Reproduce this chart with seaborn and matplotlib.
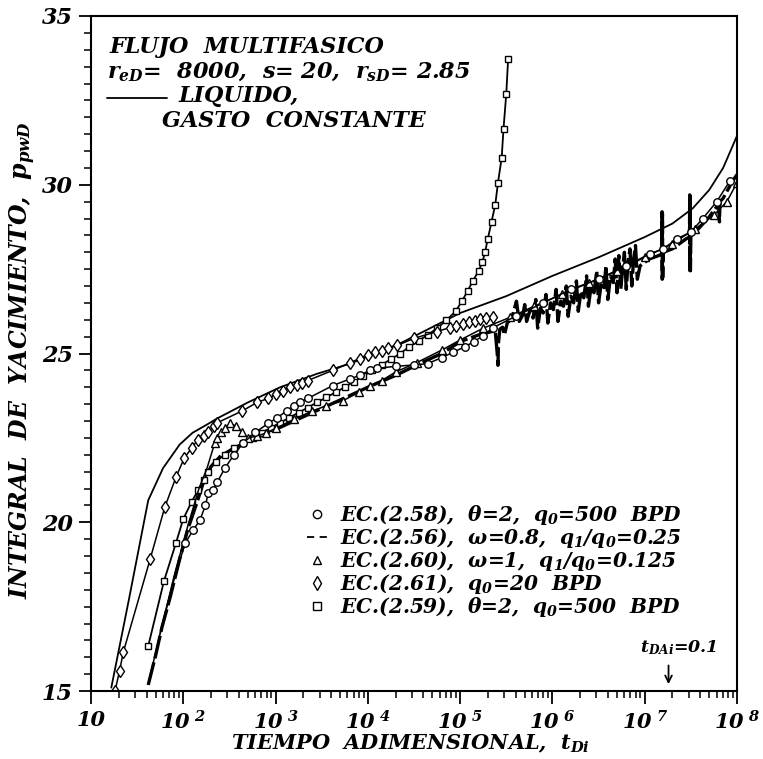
import numpy as np
import pandas as pd
import matplotlib
matplotlib.use("Agg")
import matplotlib.pyplot as plt
from matplotlib.lines import Line2D
from matplotlib.ticker import LogLocator, MultipleLocator, NullFormatter
import seaborn as sns

# Dimensionless time is stored as log10(t_Di); pressure integral p_pwD.

# Liquid, constant rate (solid reference curve)
liq_logt = [1.22, 1.41, 1.62, 1.78, 1.96, 2.10, 2.26, 2.37, 2.70, 3.05, 3.45, 3.81,
            4.35, 5.00, 5.50, 6.00, 6.50, 7.00, 7.30, 7.52, 7.70, 7.85, 8.00]
liq_p = [15.1, 17.7, 20.65, 21.6, 22.3, 22.65, 22.9, 23.08, 23.55, 24.0, 24.4, 24.7,
         25.3, 26.2, 26.7, 27.3, 27.85, 28.45, 28.85, 29.3, 29.85, 30.5, 31.45]

# EC.(2.61), q0 = 20 BPD (diamonds)
dia_logt = [1.26, 1.31, 1.35, 1.64, 1.80, 1.92, 2.01, 2.09, 2.16, 2.22, 2.27, 2.33,
            2.37, 2.64, 2.80, 2.92, 3.01, 3.08, 3.16, 3.23, 3.29, 3.35, 3.62, 3.81,
            3.91, 4.00, 4.08, 4.15, 4.22, 4.32, 4.50, 4.75, 4.89, 4.96, 5.03, 5.10,
            5.16, 5.22, 5.28, 5.36]
dia_p = [15.0, 15.6, 16.15, 18.9, 20.45, 21.33, 21.9, 22.2, 22.45, 22.57, 22.66, 22.85,
         22.95, 23.3, 23.55, 23.67, 23.8, 23.9, 24.0, 24.08, 24.14, 24.2, 24.5, 24.73,
         24.85, 24.97, 25.03, 25.08, 25.15, 25.24, 25.45, 25.65, 25.77, 25.82, 25.87, 25.93,
         25.97, 26.01, 26.04, 26.07]

# EC.(2.58), theta = 2, q0 = 500 BPD (circles)
cir_logt = [1.62, 1.77, 1.90, 2.02, 2.105, 2.18, 2.24, 2.27, 2.32, 2.37, 2.45, 2.55,
            2.65, 2.78, 2.92, 3.02, 3.12, 3.20, 3.27, 3.35, 3.62, 3.81, 3.91, 4.02,
            4.10, 4.30, 4.50, 4.65, 4.80, 4.92, 5.05, 5.15, 5.25, 5.36, 5.60, 5.90,
            6.20, 6.50, 6.80, 7.06, 7.20, 7.35, 7.50, 7.63, 7.78, 7.92]
cir_p = [15.2, 16.95, 18.3, 19.38, 19.76, 20.06, 20.5, 20.86, 20.95, 21.2, 21.6, 22.0,
         22.35, 22.66, 22.93, 23.1, 23.3, 23.45, 23.57, 23.67, 24.05, 24.25, 24.35, 24.5,
         24.56, 24.62, 24.66, 24.7, 24.88, 25.03, 25.2, 25.35, 25.53, 25.77, 26.1, 26.5,
         26.9, 27.2, 27.6, 27.96, 28.1, 28.4, 28.6, 29.0, 29.5, 30.1]

# EC.(2.60), omega = 1, q1/q0 = 0.125 (triangles)
tri_logt = [1.75, 1.90, 2.05, 2.17, 2.257, 2.34, 2.37, 2.41, 2.45, 2.51, 2.57, 2.64,
            2.70, 2.80, 2.90, 3.00, 3.20, 3.40, 3.55, 3.73, 3.90, 4.02, 4.15, 4.30,
            4.53, 4.80, 5.00, 5.25, 5.54, 5.80, 6.10, 6.40, 6.70, 7.00, 7.30, 7.55,
            7.75, 7.89, 8.00]
tri_p = [16.7, 18.4, 19.9, 21.0, 21.6, 22.34, 22.5, 22.66, 22.78, 22.93, 22.85, 22.66,
         22.5, 22.55, 22.65, 22.78, 23.05, 23.3, 23.45, 23.6, 23.85, 24.05, 24.2, 24.45,
         24.73, 25.1, 25.4, 25.75, 26.07, 26.4, 26.75, 27.1, 27.45, 27.85, 28.25, 28.7,
         29.1, 29.5, 30.06]

# EC.(2.59), theta = 2, q0 = 500 BPD (squares)
sq_logt = [1.62, 1.79, 1.92, 2.00, 2.09, 2.16, 2.22, 2.27, 2.35, 2.45, 2.55, 2.65,
           2.75, 2.85, 2.95, 3.05, 3.15, 3.25, 3.35, 3.45, 3.55, 3.65, 3.75, 3.85,
           3.95, 4.05, 4.15, 4.25, 4.35, 4.45, 4.55, 4.65, 4.75, 4.85, 4.95, 5.02,
           5.08, 5.14, 5.20, 5.24, 5.27, 5.30, 5.34, 5.38, 5.41, 5.45, 5.47, 5.50, 5.52]
sq_p = [16.33, 18.25, 19.38, 20.1, 20.6, 20.95, 21.24, 21.5, 21.8, 22.0, 22.2, 22.35,
        22.5, 22.65, 22.8, 22.95, 23.1, 23.25, 23.4, 23.55, 23.7, 23.85, 24.0, 24.17,
        24.33, 24.5, 24.67, 24.83, 25.0, 25.2, 25.38, 25.55, 25.75, 25.98, 26.25, 26.55,
        26.85, 27.16, 27.45, 27.7, 28.0, 28.4, 28.9, 29.4, 30.06, 30.8, 31.66, 32.7, 33.73]

# EC.(2.56), omega = 0.8, q1/q0 = 0.25 (dashed, oscillating at late time)
das_logt = [1.62, 1.70, 1.77, 1.86, 1.96, 2.05, 2.15, 2.22, 2.30, 2.40, 2.55, 2.75,
            3.04, 3.40, 3.73, 4.00, 4.30, 4.60, 4.80,
            5.00, 5.10, 5.20, 5.30, 5.38, 5.405, 5.41, 5.415, 5.43, 5.46, 5.48, 5.51,
            5.56, 5.61, 5.64, 5.68, 5.70, 5.72, 5.76, 5.79, 5.82, 5.84, 5.87, 5.90,
            5.93, 5.95, 5.98, 6.01, 6.04, 6.06, 6.09, 6.12, 6.15, 6.17, 6.20, 6.23,
            6.26, 6.28, 6.31, 6.34, 6.37, 6.39, 6.42, 6.45, 6.48, 6.50, 6.53, 6.56,
            6.58, 6.60, 6.63, 6.66, 6.68, 6.70, 6.72, 6.74, 6.76, 6.78, 6.80, 6.82,
            6.84, 6.86, 6.88, 6.90, 6.92, 6.95, 7.00, 7.05, 7.10, 7.15, 7.185, 7.188,
            7.19, 7.192, 7.195, 7.20, 7.25, 7.30, 7.35, 7.40, 7.45, 7.485, 7.488, 7.49,
            7.492, 7.495, 7.50, 7.55, 7.60, 7.65, 7.70, 7.75, 7.80, 7.81, 7.815, 7.85,
            7.90, 7.95, 8.00]
das_p = [15.18, 16.05, 16.9, 17.8, 18.9, 19.8, 20.6, 21.2, 21.65, 21.95, 22.2, 22.45,
         22.8, 23.25, 23.66, 24.0, 24.35, 24.75, 25.0,
         25.35, 25.45, 25.55, 25.62, 25.68, 24.9, 24.65, 25.3, 25.72, 25.78, 25.55, 25.9,
         26.05, 26.55, 25.95, 26.15, 26.45, 25.95, 26.3, 26.05, 26.6, 25.75, 26.35, 26.2,
         26.75, 25.9, 26.5, 26.3, 26.9, 25.95, 26.55, 26.4, 27.0, 26.1, 26.7, 26.5,
         27.15, 26.25, 26.85, 26.65, 27.3, 26.4, 27.0, 26.8, 27.45, 26.5, 27.1, 26.95,
         27.6, 26.6, 27.3, 27.1, 27.8, 26.8, 27.9, 26.9, 27.5, 28.0, 26.9, 27.7,
         28.1, 27.0, 27.8, 28.2, 27.2, 27.6, 27.7, 27.8, 27.85, 27.9, 27.95, 29.2,
         27.2, 29.15, 27.25, 28.0, 28.05, 28.1, 28.2, 28.3, 28.4, 28.45, 29.7, 27.4,
         29.65, 27.45, 28.5, 28.6, 28.75, 28.9, 29.05, 29.25, 29.4, 28.9, 29.5, 29.6,
         29.85, 30.1, 30.3]

x_ticks_exp = [1, 2, 3, 4, 5, 6, 7, 8]
x_tick_labels = ["10"] + [rf"$10^{{\ {k}}}$" for k in x_ticks_exp[1:]]
y_ticks = [15, 20, 25, 30, 35]

legend_labels = [
    r"EC.(2.58),  θ=2,  $q_0$=500  BPD",
    r"EC.(2.56),  ω=0.8,  $q_1/q_0$=0.25",
    r"EC.(2.60),  ω=1,  $q_1/q_0$=0.125",
    r"EC.(2.61),  $q_0$=20  BPD",
    r"EC.(2.59),  θ=2,  $q_0$=500  BPD",
]

sns.set_theme(style="ticks")
plt.rcParams.update({
    "font.family": ["DejaVu Serif"],
    "font.style": "italic",
    "font.weight": "bold",
    "axes.labelweight": "bold",
    "mathtext.fontset": "custom",
    "mathtext.rm": "DejaVu Serif:italic:bold",
    "mathtext.it": "DejaVu Serif:italic:bold",
    "mathtext.bf": "DejaVu Serif:italic:bold",
    "text.color": "black",
    "axes.labelcolor": "black",
    "axes.edgecolor": "black",
    "xtick.color": "black",
    "ytick.color": "black",
    "axes.linewidth": 1.5,
})

fig = plt.figure(figsize=(7.63, 7.59), dpi=100)
ax = fig.add_axes([91 / 763, 1 - 691 / 759, 646 / 763, 675 / 759])
ax.set_xscale("log")


def series(logt, p, **kw):
    assert len(logt) == len(p)
    frame = pd.DataFrame({"t": np.power(10.0, np.asarray(logt, dtype=float)), "p": p})
    sns.lineplot(data=frame, x="t", y="p", ax=ax, estimator=None, sort=False,
                 color="black", legend=False, **kw)


mk = dict(markerfacecolor="white", markeredgecolor="black", markeredgewidth=1.0)

series(liq_logt, liq_p, lw=1.3)
series(das_logt, das_p, lw=2.4, linestyle=(0, (7, 1.2)))
series(sq_logt, sq_p, lw=1.3, marker="s", markersize=4.8, **mk)
series(tri_logt, tri_p, lw=1.1, marker="^", markersize=5.2,
       markevery=list(range(5, len(tri_logt))), **mk)
series(cir_logt, cir_p, lw=1.1, marker="o", markersize=5.4,
       markevery=list(range(3, len(cir_logt))), **mk)
series(dia_logt, dia_p, lw=1.1, marker="d", markersize=6.5, **mk)

ax.set_xlim(10, 1e8)
ax.set_ylim(15, 35)
ax.set_xticks([10.0 ** k for k in x_ticks_exp], labels=x_tick_labels)
ax.xaxis.set_minor_locator(LogLocator(base=10, subs=range(2, 10)))
ax.xaxis.set_minor_formatter(NullFormatter())
ax.set_yticks(y_ticks, labels=[str(v) for v in y_ticks])
ax.yaxis.set_minor_locator(MultipleLocator(0.5))
ax.tick_params(axis="both", which="major", direction="out", length=9, width=1.3,
               top=False, right=False)
ax.tick_params(axis="both", which="minor", direction="out", length=5, width=1.1,
               top=False, right=False)
ax.tick_params(axis="x", which="major", labelsize=15, pad=5)
ax.tick_params(axis="y", which="major", labelsize=16, pad=4)
for side in ["top", "right", "left", "bottom"]:
    ax.spines[side].set_visible(True)
    ax.spines[side].set_linewidth(1.5)

ax.set_xlabel(r"TIEMPO  ADIMENSIONAL,  $t_{Di}$", fontsize=15, fontweight="bold")
ax.xaxis.set_label_coords(0.494, -0.062)
ax.set_ylabel(r"INTEGRAL  DE  YACIMIENTO,  $p_{pwD}$", fontsize=17, fontweight="bold")
ax.yaxis.set_label_coords(-0.082, 0.49)

# Header block
ax.text(0.028, 0.945, "FLUJO  MULTIFASICO", transform=ax.transAxes, fontsize=16,
        va="baseline", ha="left")
ax.text(0.025, 0.907, r"$r_{eD}$=  8000,  s= 20,  $r_{sD}$= 2.85", transform=ax.transAxes,
        fontsize=16, va="baseline", ha="left")
ax.plot([0.025, 0.118], [0.879, 0.879], transform=ax.transAxes, color="black", lw=1.3)
ax.text(0.135, 0.873, "LIQUIDO,", transform=ax.transAxes, fontsize=16,
        va="baseline", ha="left")
ax.text(0.110, 0.836, "GASTO  CONSTANTE", transform=ax.transAxes, fontsize=16,
        va="baseline", ha="left")

# Legend of the multiphase solutions
handles = [
    Line2D([], [], ls="none", marker="o", markersize=6, **mk),
    Line2D([], [], color="black", lw=1.3, ls=(0, (4, 3))),
    Line2D([], [], ls="none", marker="^", markersize=6, **mk),
    Line2D([], [], ls="none", marker="d", markersize=7, **mk),
    Line2D([], [], ls="none", marker="s", markersize=5.5, **mk),
]
ax.legend(handles, legend_labels, loc="upper left", bbox_to_anchor=(0.335, 0.278),
          frameon=False, borderpad=0, borderaxespad=0, handlelength=1.0,
          handletextpad=0.6, labelspacing=-0.05, fontsize=14.5)

# Start of pseudo-steady state
ax.text(0.850, 0.058, r"$t_{DAi}$=0.1", transform=ax.transAxes, fontsize=12.5,
        va="baseline", ha="left")
ax.annotate("", xy=(0.894, 0.006), xytext=(0.894, 0.042), xycoords="axes fraction",
            textcoords="axes fraction",
            arrowprops=dict(arrowstyle="->", color="black", lw=1.3))

fig.savefig("out.png", dpi=100, facecolor="white")
